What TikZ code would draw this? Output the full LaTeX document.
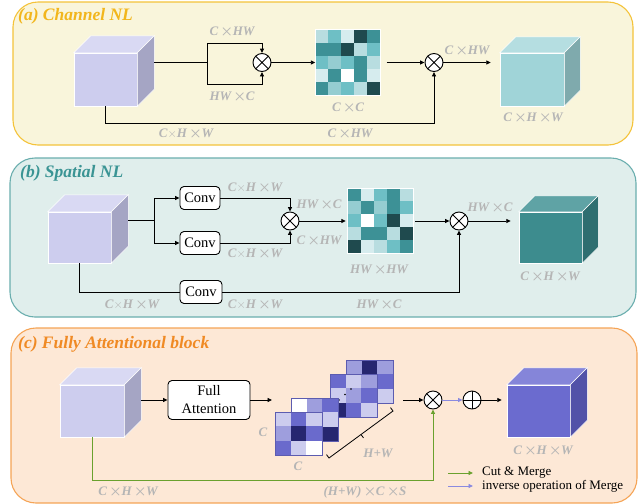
\documentclass[tikz,border=0pt]{standalone}
\usepackage{fontspec}
\setmainfont{Liberation Serif}
\usepackage{amsmath}
\usetikzlibrary{arrows.meta,positioning}

\definecolor{panelAfill}{HTML}{F9F5DB}
\definecolor{panelAdraw}{HTML}{F4C33A}
\definecolor{panelBfill}{HTML}{E0EEEC}
\definecolor{panelBdraw}{HTML}{6AAEAE}
\definecolor{panelCfill}{HTML}{FDE8D6}
\definecolor{panelCdraw}{HTML}{F5A456}
\definecolor{titleA}{HTML}{F2B61C}
\definecolor{titleB}{HTML}{3A9494}
\definecolor{titleC}{HTML}{F08A24}
\definecolor{dimgray}{HTML}{B5B5B5}
% cube faces
\definecolor{lavFront}{HTML}{CDCDEE}
\definecolor{lavTop}{HTML}{D9D9F3}
\definecolor{lavSide}{HTML}{A5A5C4}
\definecolor{cyFront}{HTML}{A0D4D8}
\definecolor{cyTop}{HTML}{B5DEE1}
\definecolor{cySide}{HTML}{7FAAAD}
\definecolor{tlFront}{HTML}{3D8C8E}
\definecolor{tlTop}{HTML}{5FA3A5}
\definecolor{tlSide}{HTML}{2E6E70}
\definecolor{prFront}{HTML}{6B6BCF}
\definecolor{prTop}{HTML}{8585D9}
\definecolor{prSide}{HTML}{5252A8}
% heat map cells
\definecolor{tA}{HTML}{D6ECEE}
\definecolor{tB}{HTML}{B8DDE0}
\definecolor{tC}{HTML}{95CDD1}
\definecolor{tD}{HTML}{6EBFC5}
\definecolor{tE}{HTML}{3D9196}
\definecolor{tF}{HTML}{1F4A4E}
\definecolor{lA}{HTML}{CCCCEE}
\definecolor{lB}{HTML}{9E9EDD}
\definecolor{lC}{HTML}{6A6ACC}
\definecolor{lD}{HTML}{262670}
\definecolor{lavEdge}{HTML}{5C5CB0}
\definecolor{cutGreen}{HTML}{6AA12E}
\definecolor{invLav}{HTML}{8A8AE0}

\newcommand{\hcross}{\,\scalebox{1.2}{$\boldsymbol{\times}$}\kern-0.5pt}
\newcommand{\tcross}{\ensuremath{\times}}

% top and side faces of a cube whose front face is node #1
\newcommand{\cubefaces}[4]{%
  \fill[#2, draw=white, line width=0.5pt] (#1.north west) -- ([shift={(#4,-#4)}]#1.north west)
    -- ([shift={(#4,-#4)}]#1.north east) -- (#1.north east) -- cycle;
  \fill[#3, draw=white, line width=0.5pt] (#1.north east) -- ([shift={(#4,-#4)}]#1.north east)
    -- ([shift={(#4,-#4)}]#1.south east) -- (#1.south east) -- cycle;}

% cells of a heat map laid over node #1
\newcommand{\heatmap}[4]{%
  \begin{scope}[shift={(#1.north west)}]
    \foreach \row [count=\r] in {#4} {
      \foreach \c [count=\k] in \row {
        \fill[\c] ({(\k-1)*#2},{(\r-1)*#3}) rectangle ++(#2,#3);
      }
    }
  \end{scope}}

\begin{document}
\begin{tikzpicture}[x=1pt,y=-1pt]
    \tikzset{%
        Arr/.style={-{Triangle[length=4.5pt,width=4pt]}, line width=0.9pt},%
        Line/.style={line width=0.9pt},%
        Cube/.style={inner sep=0pt, draw=white, line width=0.5pt},%
        Mul/.style={circle, draw, fill=white, line width=0.9pt, minimum size=18pt, inner sep=0pt,%
            path picture={\draw[line width=0.9pt] (path picture bounding box.north west) -- (path picture bounding box.south east)
                (path picture bounding box.north east) -- (path picture bounding box.south west);}},%
        Add/.style={circle, draw, fill=white, line width=0.9pt, minimum size=18pt, inner sep=0pt,%
            path picture={\draw[line width=0.9pt] (path picture bounding box.north) -- (path picture bounding box.south)
                (path picture bounding box.east) -- (path picture bounding box.west);}},%
        Block/.style={draw, rounded corners=4pt, line width=0.9pt, fill=white, inner sep=2pt,%
            font=\fontsize{14.5}{18}\selectfont, align=center},%
        Dim/.style={text=dimgray, font=\bfseries\itshape\fontsize{13}{13}\selectfont, inner sep=1pt},%
        Title/.style={font=\bfseries\itshape\fontsize{17.5}{17.5}\selectfont, anchor=west, inner sep=0pt},%
        Legend/.style={font=\fontsize{13}{13}\selectfont, anchor=west, inner sep=0pt},%
        MatBox/.style={inner sep=0pt, minimum width=65pt, minimum height=65pt},%
        LavBox/.style={inner sep=0pt, minimum width=46.5pt, minimum height=42.9pt, anchor=north west},%
    }
    \useasboundingbox (0,0) rectangle (641,504);

    % panels
    \draw[panelAdraw, fill=panelAfill, line width=1.1pt, rounded corners=25pt] (13,2) rectangle (633,145);
    \draw[panelBdraw, fill=panelBfill, line width=1.1pt, rounded corners=25pt] (10,158) rectangle (636,317);
    \draw[panelCdraw, fill=panelCfill, line width=1.1pt, rounded corners=25pt] (11,328) rectangle (637,503);

    % (a) Channel NL
    \node[Title, text=titleA] (titA) at (18,16) {(a) Channel NL};
    \node[Cube, fill=lavFront, minimum width=63pt, minimum height=53pt] (inA) at (105.5,79.5) {};
    \cubefaces{inA}{lavTop}{lavSide}{17}
    \node[Cube, fill=cyFront, minimum width=64pt, minimum height=53pt] (outA) at (532,79.5) {};
    \cubefaces{outA}{cyTop}{cySide}{16}
    \coordinate (inAr) at ([shift={(17,-17)}]inA.east);
    \coordinate (splA) at (207,62.5);
    \node[Mul] (mulA1) at (262,62.5) {};
    \node[MatBox] (matA) at (348,62.5) {};
    \heatmap{matA}{13}{13}{{tB,tD,tA,tF,tE},{tE,tE,tF,tB,tD},{tD,tC,tD,tE,tB},{tA,tE,white,tE,tA},{tE,tC,tD,tB,tF}}
    \draw[white, line width=1pt] (matA.north west) rectangle (matA.south east);
    \node[Mul] (mulA2) at (434,62.5) {};

    \draw[Line] (inAr) -- (splA);
    \draw[Arr] (splA) -- ++(0,-19.5) -| (mulA1.north);
    \draw[Arr] (splA) -- ++(0,21.5) -| (mulA1.south);
    \draw[Arr] (mulA1) -- (matA);
    \draw[Arr, shorten <=6pt] (matA) -- (mulA2);
    \draw[Arr, shorten >=9pt] (mulA2) -- (outA.west |- mulA2);
    \draw[Arr] (inA.south) -- ++(0,17) -| (mulA2.south);

    \node[Dim] (dA1) at (232,32) {C\hcross HW};
    \node[Dim] (dA2) at (232,97) {HW\hcross C};
    \node[Dim] (dA3) at (348,108) {C\hcross C};
    \node[Dim] (dA4) at (467,51) {C\hcross HW};
    \node[Dim] (dA5) at (533,118) {C\hcross H\hcross W};
    \node[Dim] (dA6) at (186,134) {C\tcross H\hcross W};
    \node[Dim] (dA7) at (350,134) {C\hcross HW};

    % (b) Spatial NL
    \node[Title, text=titleB] (titB) at (20,173) {(b) Spatial NL};
    \node[Cube, fill=lavFront, minimum width=63pt, minimum height=51pt] (inB) at (79.5,237.5) {};
    \cubefaces{inB}{lavTop}{lavSide}{17}
    \node[Cube, fill=tlFront, minimum width=63pt, minimum height=51pt] (outB) at (550.5,237.5) {};
    \cubefaces{outB}{tlTop}{tlSide}{16}
    \coordinate (inBr) at ([shift={(17,-17)}]inB.east);
    \coordinate (splB) at (154,220.5);
    \node[Block, minimum width=40pt, minimum height=23pt] (conv1) at (200,198) {Conv};
    \node[Block, minimum width=40pt, minimum height=23pt] (conv2) at (200,243) {Conv};
    \node[Block, minimum width=42pt, minimum height=23pt] (conv3) at (201,292) {Conv};
    \node[Mul] (mulB1) at (290,221) {};
    \node[MatBox] (matB) at (380.5,221) {};
    \heatmap{matB}{13}{13}{{tE,tA,tD,tE,tB},{tC,tE,tC,tE,tD},{tD,white,tD,tF,tA},{tB,tE,tE,tB,tF},{tF,tA,tB,tD,tE}}
    \draw[white, line width=1pt] (matB.north west) rectangle (matB.south east);
    \node[Mul] (mulB2) at (459,221) {};

    \draw[Line] (inBr) -- (splB);
    \draw[Arr] (splB) |- (conv1);
    \draw[Arr] (splB) |- (conv2);
    \draw[Arr] (conv1) -| (mulB1);
    \draw[Arr] (conv2) -| (mulB1);
    \draw[Arr, shorten >=2pt] (mulB1) -- (matB);
    \draw[Arr, shorten <=2pt] (matB) -- (mulB2);
    \draw[Arr, shorten >=8pt] (mulB2) -- (outB.west |- mulB2);
    \draw[Line] (inB.south) |- (conv3);
    \draw[Arr] (conv3) -| (mulB2);

    \node[Dim] (dB1) at (255,188) {C\tcross H\hcross W};
    \node[Dim] (dB2) at (255,254) {C\tcross H\hcross W};
    \node[Dim] (dB3) at (319,205) {HW\hcross C};
    \node[Dim] (dB4) at (319,241) {C\hcross HW};
    \node[Dim] (dB5) at (379,270) {HW\hcross HW};
    \node[Dim] (dB6) at (490,208) {HW\hcross C};
    \node[Dim] (dB7) at (550,277) {C\hcross H\hcross W};
    \node[Dim] (dB8) at (132,305) {C\tcross H\hcross W};
    \node[Dim] (dB9) at (255,305) {C\tcross H\hcross W};
    \node[Dim] (dB10) at (379,305) {HW\hcross C};

    % (c) Fully Attentional block
    \node[Title, text=titleC] (titC) at (18,344) {(c) Fully Attentional block};
    \node[Cube, fill=lavFront, minimum width=64pt, minimum height=52pt] (inC) at (92,411) {};
    \cubefaces{inC}{lavTop}{lavSide}{17}
    \node[Cube, fill=prFront, minimum width=63pt, minimum height=52pt] (outC) at (538.5,411) {};
    \cubefaces{outC}{prTop}{prSide}{17}
    \coordinate (inCr) at ([shift={(17,-11)}]inC.east);
    \node[Block, minimum width=82pt, minimum height=39pt] (fa) at (209,400) {Full\\Attention};
    \coordinate (stkL) at (272,400);
    \coordinate (stkR) at (403,400);

    % stacked slices, back to front
    \node[LavBox] (stk4) at (346,360) {};
    \heatmap{stk4}{15.5}{14.3}{{lB,lD,lB},{lA,lC,lC},{lB,lA,lA}}
    \draw[lavEdge, line width=0.8pt] (stk4.north west) rectangle (stk4.south east);
    \node[LavBox] (stk3) at (330,374) {};
    \heatmap{stk3}{15.5}{14.3}{{lC,lA,lB},{lA,lB,lC},{lD,lC,lA}}
    \draw[lavEdge, line width=0.8pt] (stk3.north west) rectangle (stk3.south east);
    \fill (339,400) circle (0.9pt) (345,394.5) circle (0.9pt) (351,389) circle (0.9pt);
    \node[LavBox] (stk2) at (291,398) {};
    \heatmap{stk2}{15.5}{14.3}{{white,lB,lC},{lB,lC,lA},{lC,lA,lD}}
    \draw[lavEdge, line width=0.8pt] (stk2.north west) rectangle (stk2.south east);
    \node[LavBox] (stk1) at (275,412) {};
    \heatmap{stk1}{15.5}{14.3}{{lA,lC,lA},{lB,lD,lC},{lC,lA,white}}
    \draw[lavEdge, line width=0.8pt] (stk1.north west) rectangle (stk1.south east);

    % bracket for H+W
    \coordinate (br1) at (329,458);
    \coordinate (br2) at (393,411);
    \coordinate (brm) at (361,434.5);
    \draw[line width=0.8pt] ([shift={(-2.5,-3.4)}]br1) -- (br1) -- (br2) -- ++(-2.5,-3.4);
    \draw[line width=0.8pt] (brm) -- ++(2.5,3.4);

    \node[Mul] (mulC) at (433,400) {};
    \node[Add] (addC) at (472,400) {};

    \draw[Arr] (inCr) -- (fa);
    \draw[Arr] (fa) -- (stkL);
    \draw[Arr] (stkR) -- (mulC);
    \draw[Arr, invLav] (mulC) -- (addC);
    \draw[Arr, shorten >=5pt] (addC) -- (outC.west |- addC);
    \draw[Arr, cutGreen] (inC.south) -- ++(0,43) -| (mulC.south);

    \node[Dim] (dC1) at (263,432) {C};
    \node[Dim] (dC2) at (298,466) {C};
    \node[Dim] (dC3) at (378,453) {H+W};
    \node[Dim] (dC4) at (543,451) {C\hcross H\hcross W};
    \node[Dim] (dC5) at (128,492) {C\hcross H\hcross W};
    \node[Dim] (dC6) at (365,492) {(H+W)\hcross C\hcross S};

    % legend
    \coordinate (lg1) at (448,473);
    \coordinate (lg1e) at (473,473);
    \coordinate (lg2) at (448,486);
    \coordinate (lg2e) at (473,486);
    \draw[Arr, cutGreen] (lg1) -- (lg1e);
    \draw[Arr, invLav] (lg2) -- (lg2e);
    \node[Legend, right=9pt of lg1e] (lgCut) {Cut \& Merge};
    \node[Legend, right=9pt of lg2e] (lgInv) {inverse operation of Merge};
\end{tikzpicture}
\end{document}
